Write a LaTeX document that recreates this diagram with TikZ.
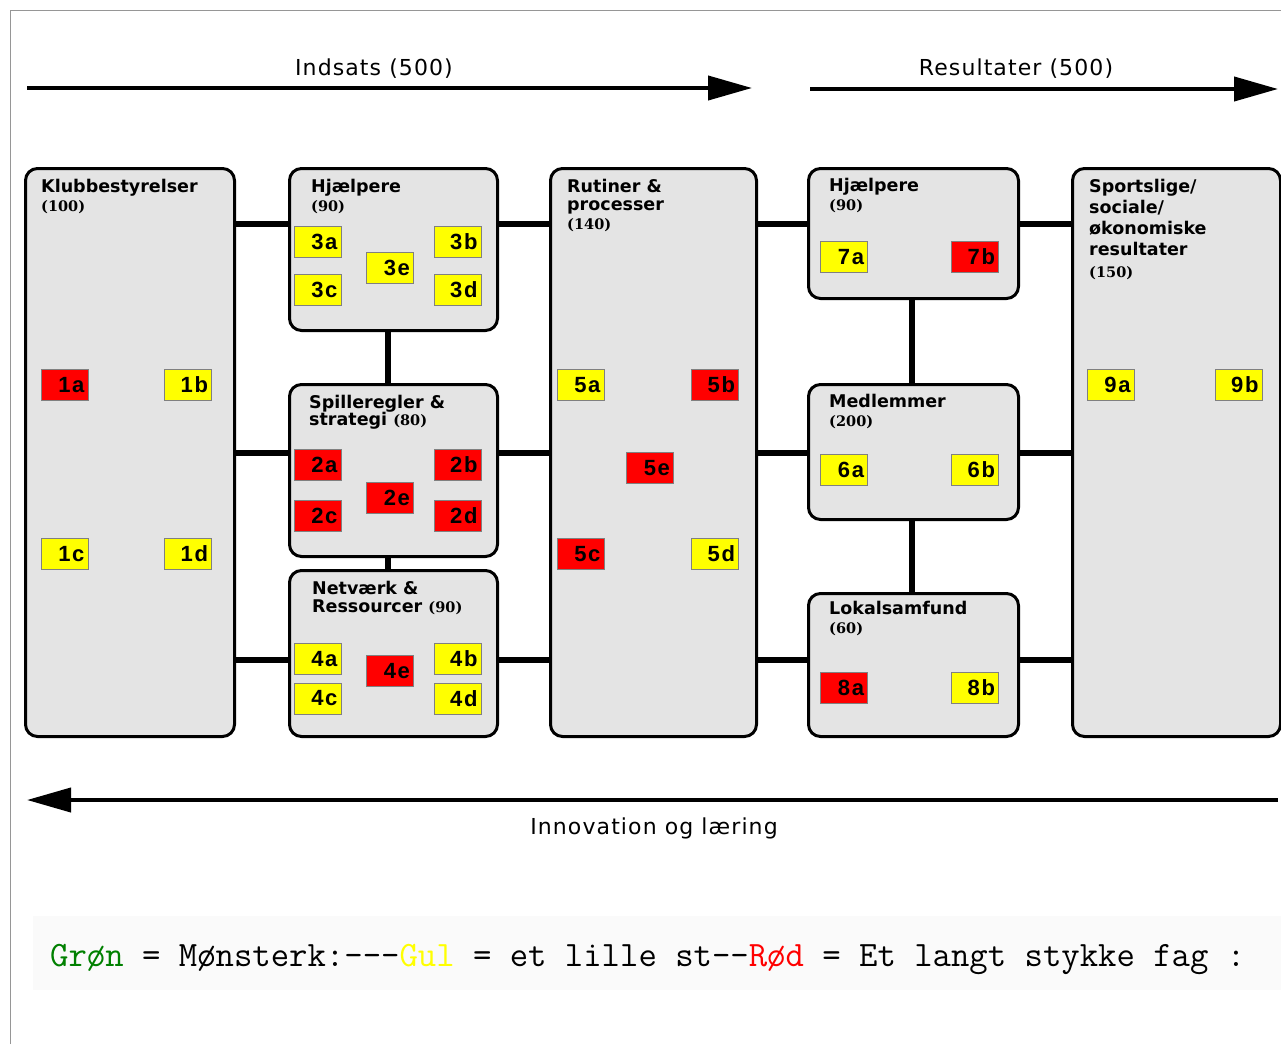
\documentclass[tikz,border=0pt]{standalone}
\usepackage{fontspec}
\usepackage{graphicx}
\usetikzlibrary{arrows.meta}
\setmainfont{DejaVu Sans}
\newfontfamily\lblfont{DejaVu Sans}[LetterSpace=5]
\newfontfamily\cellfont{Liberation Sans}[LetterSpace=8]
\newfontfamily\subfontfam{DejaVu Serif}
\newcommand\hdfnt{\fontsize{17.5}{19}\selectfont\bfseries}
\newcommand\subfnt{\subfontfam\fontsize{14.5}{19}\selectfont\bfseries}
\definecolor{boxgray}{RGB}{228,228,228}
\definecolor{cyel}{RGB}{255,255,0}
\definecolor{cred}{RGB}{255,0,0}
\definecolor{lgreen}{RGB}{0,128,0}
\definecolor{framegray}{RGB}{150,150,150}
\tikzset{
  bigbox/.style={draw=black, line width=3pt, rounded corners=12pt, fill=boxgray,
    inner sep=0pt, anchor=north west},
  hdr/.style={anchor=north west, inner sep=0pt, align=left, font=\hdfnt},
  cell/.style={draw=black!50, line width=0.8pt, minimum width=47pt, minimum height=31pt,
    inner sep=0pt, text width=40pt, align=right,
    font=\cellfont\fontsize{22}{22}\selectfont\bfseries},
  ycell/.style={cell, fill=cyel},
  rcell/.style={cell, fill=cred},
  conn/.style={line width=6pt, black},
  bigarrow/.style={line width=4pt, black, -{Triangle[length=44pt,width=24pt]}},
  toplbl/.style={anchor=base, inner sep=0pt, font=\lblfont\fontsize{22}{24}\selectfont},
}
\begin{document}
\begin{tikzpicture}[x=1pt,y=-1pt]
\useasboundingbox (0,0) rectangle (1281,1044);
\fill[white] (0,0) rectangle (1281,1044);
% frame
\draw[framegray, line width=1pt] (10,1044) -- (10,10) -- (1281,10);
% legend background
\fill[black!2] (33,916) rectangle (1281,990);

% top arrows
\coordinate (a1s) at (27,88);
\coordinate (a1e) at (752,88);
\coordinate (a2s) at (810,89);
\coordinate (a2e) at (1278,89);
\coordinate (a3s) at (1278,800);
\coordinate (a3e) at (27,800);
\draw[bigarrow] (a1s) -- (a1e);
\draw[bigarrow] (a2s) -- (a2e);
\draw[bigarrow] (a3s) -- (a3e);
\node[toplbl] (lind) at (374,75) {Indsats (500)};
\node[toplbl] (lres) at (1016,75) {Resultater (500)};
\node[toplbl] (linn) at (654,834) {Innovation og læring};

% row coordinates
\coordinate (r1) at (0,224);
\coordinate (r2) at (0,453);
\coordinate (r3) at (0,660);
\coordinate (v1) at (388,0);
\coordinate (v2) at (912,0);

% big boxes
\node[bigbox, minimum width=209pt, minimum height=568pt] (kb) at (24,167) {};
\node[bigbox, minimum width=208pt, minimum height=162pt] (hj1) at (288,167) {};
\node[bigbox, minimum width=208pt, minimum height=172pt] (sp) at (288,383) {};
\node[bigbox, minimum width=208pt, minimum height=166pt] (nr) at (288,569) {};
\node[bigbox, minimum width=206pt, minimum height=568pt] (ru) at (549,167) {};
\node[bigbox, minimum width=210pt, minimum height=130pt] (hj2) at (807,167) {};
\node[bigbox, minimum width=210pt, minimum height=135pt] (me) at (807,383) {};
\node[bigbox, minimum width=210pt, minimum height=143pt] (lo) at (807,592) {};
\node[bigbox, minimum width=208pt, minimum height=568pt] (so) at (1071,167) {};

% connectors
\draw[conn] (kb.east |- r1) -- (hj1.west |- r1);
\draw[conn] (hj1.east |- r1) -- (ru.west |- r1);
\draw[conn] (ru.east |- r1) -- (hj2.west |- r1);
\draw[conn] (hj2.east |- r1) -- (so.west |- r1);
\draw[conn] (kb.east |- r2) -- (sp.west |- r2);
\draw[conn] (sp.east |- r2) -- (ru.west |- r2);
\draw[conn] (ru.east |- r2) -- (me.west |- r2);
\draw[conn] (me.east |- r2) -- (so.west |- r2);
\draw[conn] (kb.east |- r3) -- (nr.west |- r3);
\draw[conn] (nr.east |- r3) -- (ru.west |- r3);
\draw[conn] (ru.east |- r3) -- (lo.west |- r3);
\draw[conn] (lo.east |- r3) -- (so.west |- r3);
\draw[conn] (hj1.south -| v1) -- (sp.north -| v1);
\draw[conn] (sp.south -| v1) -- (nr.north -| v1);
\draw[conn] (hj2.south -| v2) -- (me.north -| v2);
\draw[conn] (me.south -| v2) -- (lo.north -| v2);

% headers
\node[hdr] (tkb) at (41,179) {Klubbestyrelser\\{\subfnt (100)}};
\node[hdr] (thj1) at (311,179) {Hjælpere\\{\subfnt (90)}};
\node[hdr] (tsp) at (309,395) {Spilleregler \&\\[-2.5pt]strategi {\subfnt (80)}};
\node[hdr] (tnr) at (312,581) {Netværk \&\\[-1pt]Ressourcer {\subfnt (90)}};
\node[hdr] (tru) at (567,179) {Rutiner \&\\[-1pt]processer\\{\subfnt (140)}};
\node[hdr] (thj2) at (829,178) {Hjælpere\\{\subfnt (90)}};
\node[hdr] (tme) at (829,394) {Medlemmer\\{\subfnt (200)}};
\node[hdr] (tlo) at (829,601) {Lokalsamfund\\{\subfnt (60)}};
\node[hdr] (tso) at (1089,179) {Sportslige/\\[2pt]sociale/\\[2pt]økonomiske\\[2pt]resultater\\[3pt]{\subfnt (150)}};

% cells
\node[rcell] (c1a) at (64.5,385) {1a};
\node[ycell] (c1b) at (188,385) {1b};
\node[ycell] (c1c) at (64.5,554) {1c};
\node[ycell] (c1d) at (188,554) {1d};

\node[ycell] (c3a) at (317.5,242) {3a};
\node[ycell] (c3b) at (457.5,242) {3b};
\node[ycell] (c3c) at (317.5,290) {3c};
\node[ycell] (c3d) at (457.5,290) {3d};
\node[ycell] (c3e) at (390,268) {3e};

\node[rcell] (c2a) at (317.5,465) {2a};
\node[rcell] (c2b) at (457.5,465) {2b};
\node[rcell] (c2c) at (317.5,516) {2c};
\node[rcell] (c2d) at (457.5,516) {2d};
\node[rcell] (c2e) at (390,498) {2e};

\node[ycell] (c4a) at (317.5,659) {4a};
\node[ycell] (c4b) at (457.5,659) {4b};
\node[ycell] (c4c) at (317.5,698.5) {4c};
\node[ycell] (c4d) at (457.5,698.5) {4d};
\node[rcell] (c4e) at (390,671) {4e};

\node[ycell] (c5a) at (580.5,385) {5a};
\node[rcell] (c5b) at (715,385) {5b};
\node[rcell] (c5c) at (580.5,554) {5c};
\node[ycell] (c5d) at (715,554) {5d};
\node[rcell] (c5e) at (650,468) {5e};

\node[ycell] (c7a) at (844,257) {7a};
\node[rcell] (c7b) at (975,257) {7b};
\node[ycell] (c6a) at (844,470) {6a};
\node[ycell] (c6b) at (975,470) {6b};
\node[rcell] (c8a) at (844,688) {8a};
\node[ycell] (c8b) at (975,688) {8b};

\node[ycell] (c9a) at (1110.5,385) {9a};
\node[ycell] (c9b) at (1238.5,385) {9b};

% legend
\node[anchor=base west, inner sep=0pt, font=\ttfamily\fontsize{35.7}{36}\selectfont] (leg) at (50,966)
  {\textcolor{lgreen}{Grøn} = Mønsterk:---\textcolor{cyel}{Gul} = et lille st--\textcolor{cred}{Rød} = Et langt stykke fag :};
\end{tikzpicture}
\end{document}
